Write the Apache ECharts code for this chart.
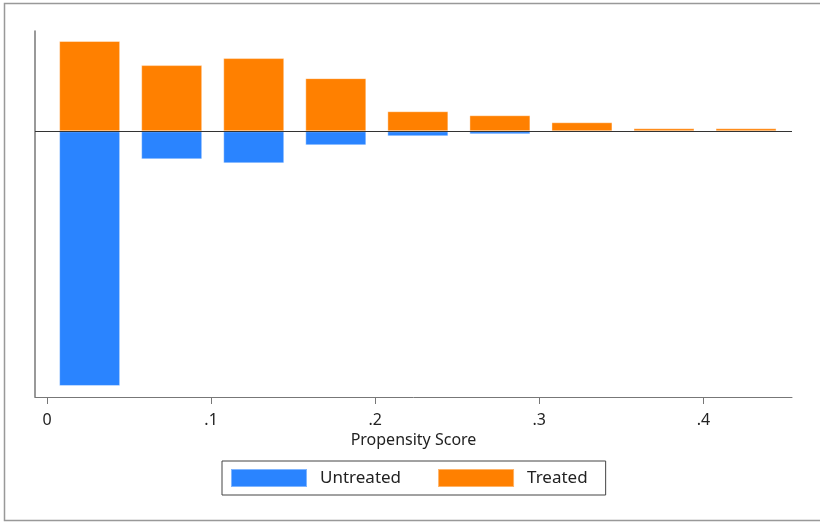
<!DOCTYPE html>
<html>
<head>
<meta charset="utf-8">
<script src="https://cdn.jsdelivr.net/npm/echarts@6/dist/echarts.min.js"></script>
<style>
	html, body { margin: 0; padding: 0; background: #fff; }
	#chart { width: 820px; height: 523px; }
</style>
</head>
<body>
<div id="chart"></div>
<script>
// bin centres (propensity score)
var binCenters = [0.026, 0.076, 0.126, 0.176, 0.226, 0.276, 0.326, 0.376, 0.426];
// treated (above zero) and untreated (below zero), arbitrary density units
var treatedVals = [9.0, 6.6, 7.3, 5.3, 2.0, 1.6, 0.9, 0.3, 0.3];
var untreatedVals = [-25.4, -2.8, -3.2, -1.4, -0.5, -0.3, -0.1, -0.05, -0.05];
var tickValues = [0, 0.1, 0.2, 0.3, 0.4];

var chart = echarts.init(document.getElementById('chart'));

function pairs(xs, ys) {
	var out = [];
	for (var i = 0; i < xs.length; i++) {
		out.push([xs[i], ys[i]]);
	}
	return out;
}

var font = '"Noto Sans", "DejaVu Sans", sans-serif';

var option = {
	animation: false,
	color: ['#2a84ff', '#ff8000'],
	graphic: [{
		type: 'rect',
		shape: { x: 4.5, y: 3.5, width: 830, height: 517 },
		style: { fill: 'none', stroke: '#999', lineWidth: 1.5 },
		silent: true
	}],
	grid: { left: 35, right: 28, top: 31, bottom: 126 },
	legend: {
		left: 222,
		top: 461,
		padding: [7, 18, 7, 8],
		itemWidth: 76,
		itemHeight: 18,
		itemGap: 36,
		borderColor: '#444',
		borderWidth: 1,
		icon: 'rect',
		textStyle: { fontFamily: font, fontSize: 17, color: '#222', padding: [0, 0, 0, 8] },
		data: ['Untreated', 'Treated']
	},
	xAxis: {
		type: 'value',
		min: -0.0073,
		max: 0.454,
		name: 'Propensity Score',
		nameLocation: 'middle',
		nameGap: 34,
		nameTextStyle: { fontFamily: font, fontSize: 16, color: '#222' },
		axisLine: { show: true, onZero: false, lineStyle: { color: '#777', width: 1 } },
		axisTick: { show: true, length: 7, customValues: tickValues, lineStyle: { color: '#777' } },
		axisLabel: {
			customValues: tickValues,
			fontFamily: font,
			fontSize: 16,
			color: '#222',
			margin: 15,
			formatter: function (v) {
				return v === 0 ? '0' : String(v).replace('0.', '.');
			}
		},
		splitLine: { show: false }
	},
	yAxis: {
		type: 'value',
		min: -26.5,
		max: 10,
		axisLine: { show: true, onZero: false, lineStyle: { color: '#777', width: 1.5 } },
		axisTick: { show: false },
		axisLabel: { show: false },
		splitLine: { show: false }
	},
	series: [
		{
			name: 'Untreated',
			type: 'bar',
			barWidth: 61,
			barGap: '-100%',
			itemStyle: { borderColor: 'rgba(255,255,255,0.4)', borderWidth: 1 },
			data: pairs(binCenters, untreatedVals)
		},
		{
			name: 'Treated',
			type: 'bar',
			barWidth: 61,
			barGap: '-100%',
			itemStyle: { borderColor: 'rgba(255,255,255,0.4)', borderWidth: 1 },
			data: pairs(binCenters, treatedVals),
			markLine: {
				silent: true,
				symbol: 'none',
				label: { show: false },
				lineStyle: { color: '#333', type: 'solid', width: 1.2 },
				data: [{ yAxis: 0 }]
			}
		}
	]
};
chart.setOption(option);
</script>
</body>
</html>
